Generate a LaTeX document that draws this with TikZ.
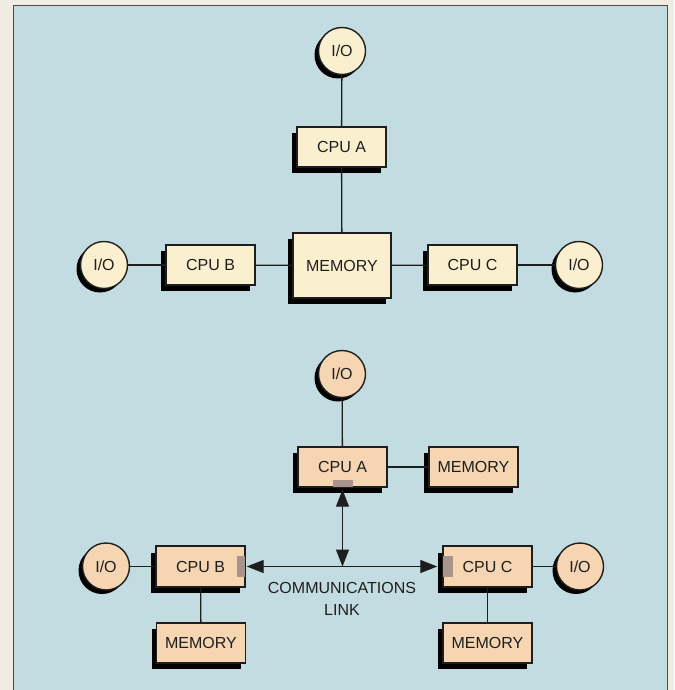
\documentclass[tikz,border=0pt]{standalone}
\usepackage{fontspec}
\setmainfont{Liberation Sans}
\usetikzlibrary{arrows.meta}
\definecolor{panel}{HTML}{C3DCE2}
\definecolor{margin}{HTML}{F1ECE2}
\definecolor{cream}{HTML}{FAF0CF}
\definecolor{peach}{HTML}{F5D5B2}
\definecolor{portc}{HTML}{A8948A}
\definecolor{ink}{HTML}{1E1E1E}
\tikzset{
  shbox/.style={preaction={fill=black,transform canvas={xshift=-5pt,yshift=-6pt}}},
  shcirc/.style={preaction={fill=black,transform canvas={xshift=-4pt,yshift=-4pt}}},
  unit/.style={draw=ink,line width=1.4pt,rectangle,minimum width=89pt,minimum height=40pt,
    inner sep=0pt,font=\fontsize{16}{18}\selectfont,text=ink,shbox},
  bigmem/.style={unit,minimum width=98pt,minimum height=65pt},
  iocirc/.style={draw=ink,line width=1.4pt,circle,minimum size=47pt,inner sep=0pt,
    font=\fontsize{16}{18}\selectfont,text=ink,shcirc},
  top/.style={fill=cream},
  low/.style={fill=peach},
  wire/.style={draw=ink,line width=1.3pt},
  link/.style={wire,{Triangle[length=17pt,width=13pt]}-{Triangle[length=17pt,width=13pt]}},
  port/.style={fill=portc,draw=none,inner sep=0pt}
}
\begin{document}
\begin{tikzpicture}[x=1pt,y=-1pt]
\useasboundingbox (0,0) rectangle (674,690);
\fill[margin] (0,0) rectangle (674,690);
\fill[panel] (13,6) rectangle (667,700);
\draw[ink!80,line width=1pt] (13,700) -- (13,6) -- (667,6) -- (667,700);

% ---------- upper diagram ----------
\node[iocirc,top] (io1) at (342,51) {I/O};
\node[unit,top] (ua) at (341.5,147) {CPU A};
\node[bigmem,top] (um) at (342,265.5) {MEMORY};
\node[unit,top] (ub) at (210.5,265) {CPU B};
\node[unit,top] (uc) at (472.5,265) {CPU C};
\node[iocirc,top] (iol) at (104,265) {I/O};
\node[iocirc,top] (ior) at (579,265) {I/O};
\draw[wire] (io1) -- (ua);
\draw[wire] (ua) -- (um);
\draw[wire] (iol) -- (ub);
\draw[wire] (ub) -- (um);
\draw[wire] (um) -- (uc);
\draw[wire] (uc) -- (ior);

% ---------- lower diagram ----------
\node[iocirc,low] (io2) at (342,374) {I/O};
\node[unit,low] (la) at (342.5,467) {CPU A};
\node[unit,low] (lam) at (473.5,467) {MEMORY};
\node[unit,low] (lb) at (200.5,566.5) {CPU B};
\node[unit,low] (lc) at (487.5,566.5) {CPU C};
\node[unit,low] (lbm) at (201,643) {MEMORY};
\node[unit,low] (lcm) at (487.5,643) {MEMORY};
\node[iocirc,low] (iobl) at (106,566.5) {I/O};
\node[iocirc,low] (iobr) at (580,566.5) {I/O};
% ports
\node[port,minimum width=20pt,minimum height=8pt,anchor=south] (pa) at ([yshift=-0.7pt]la.south) {};
\node[port,minimum width=8pt,minimum height=21pt,anchor=east] (pb) at ([xshift=-0.7pt]lb.east) {};
\node[port,minimum width=10pt,minimum height=21pt,anchor=west] (pc) at ([xshift=0.7pt]lc.west) {};
\draw[ink,line width=1.4pt] (la.north west) rectangle (la.south east);
\draw[ink,line width=1.4pt] (lb.north west) rectangle (lb.south east);
\draw[ink,line width=1.4pt] (lc.north west) rectangle (lc.south east);

\draw[wire] (io2) -- (la);
\draw[wire] (la) -- (lam);
\draw[wire] (iobl) -- (lb);
\draw[wire] (lb) -- (lbm);
\draw[wire] (lc) -- (iobr);
\draw[wire] (lc) -- (lcm);
\coordinate (j) at (342.5,566.5);
\draw[link,shorten <=1pt,shorten >=5pt] (lb.east) -- (lc.west);
\draw[link,shorten <=2pt] (la.south) -- (j);
\node[font=\fontsize{16}{22}\selectfont,text=ink,align=center,anchor=north] (cl) at (342,579) {COMMUNICATIONS\\LINK};
\end{tikzpicture}
\end{document}
